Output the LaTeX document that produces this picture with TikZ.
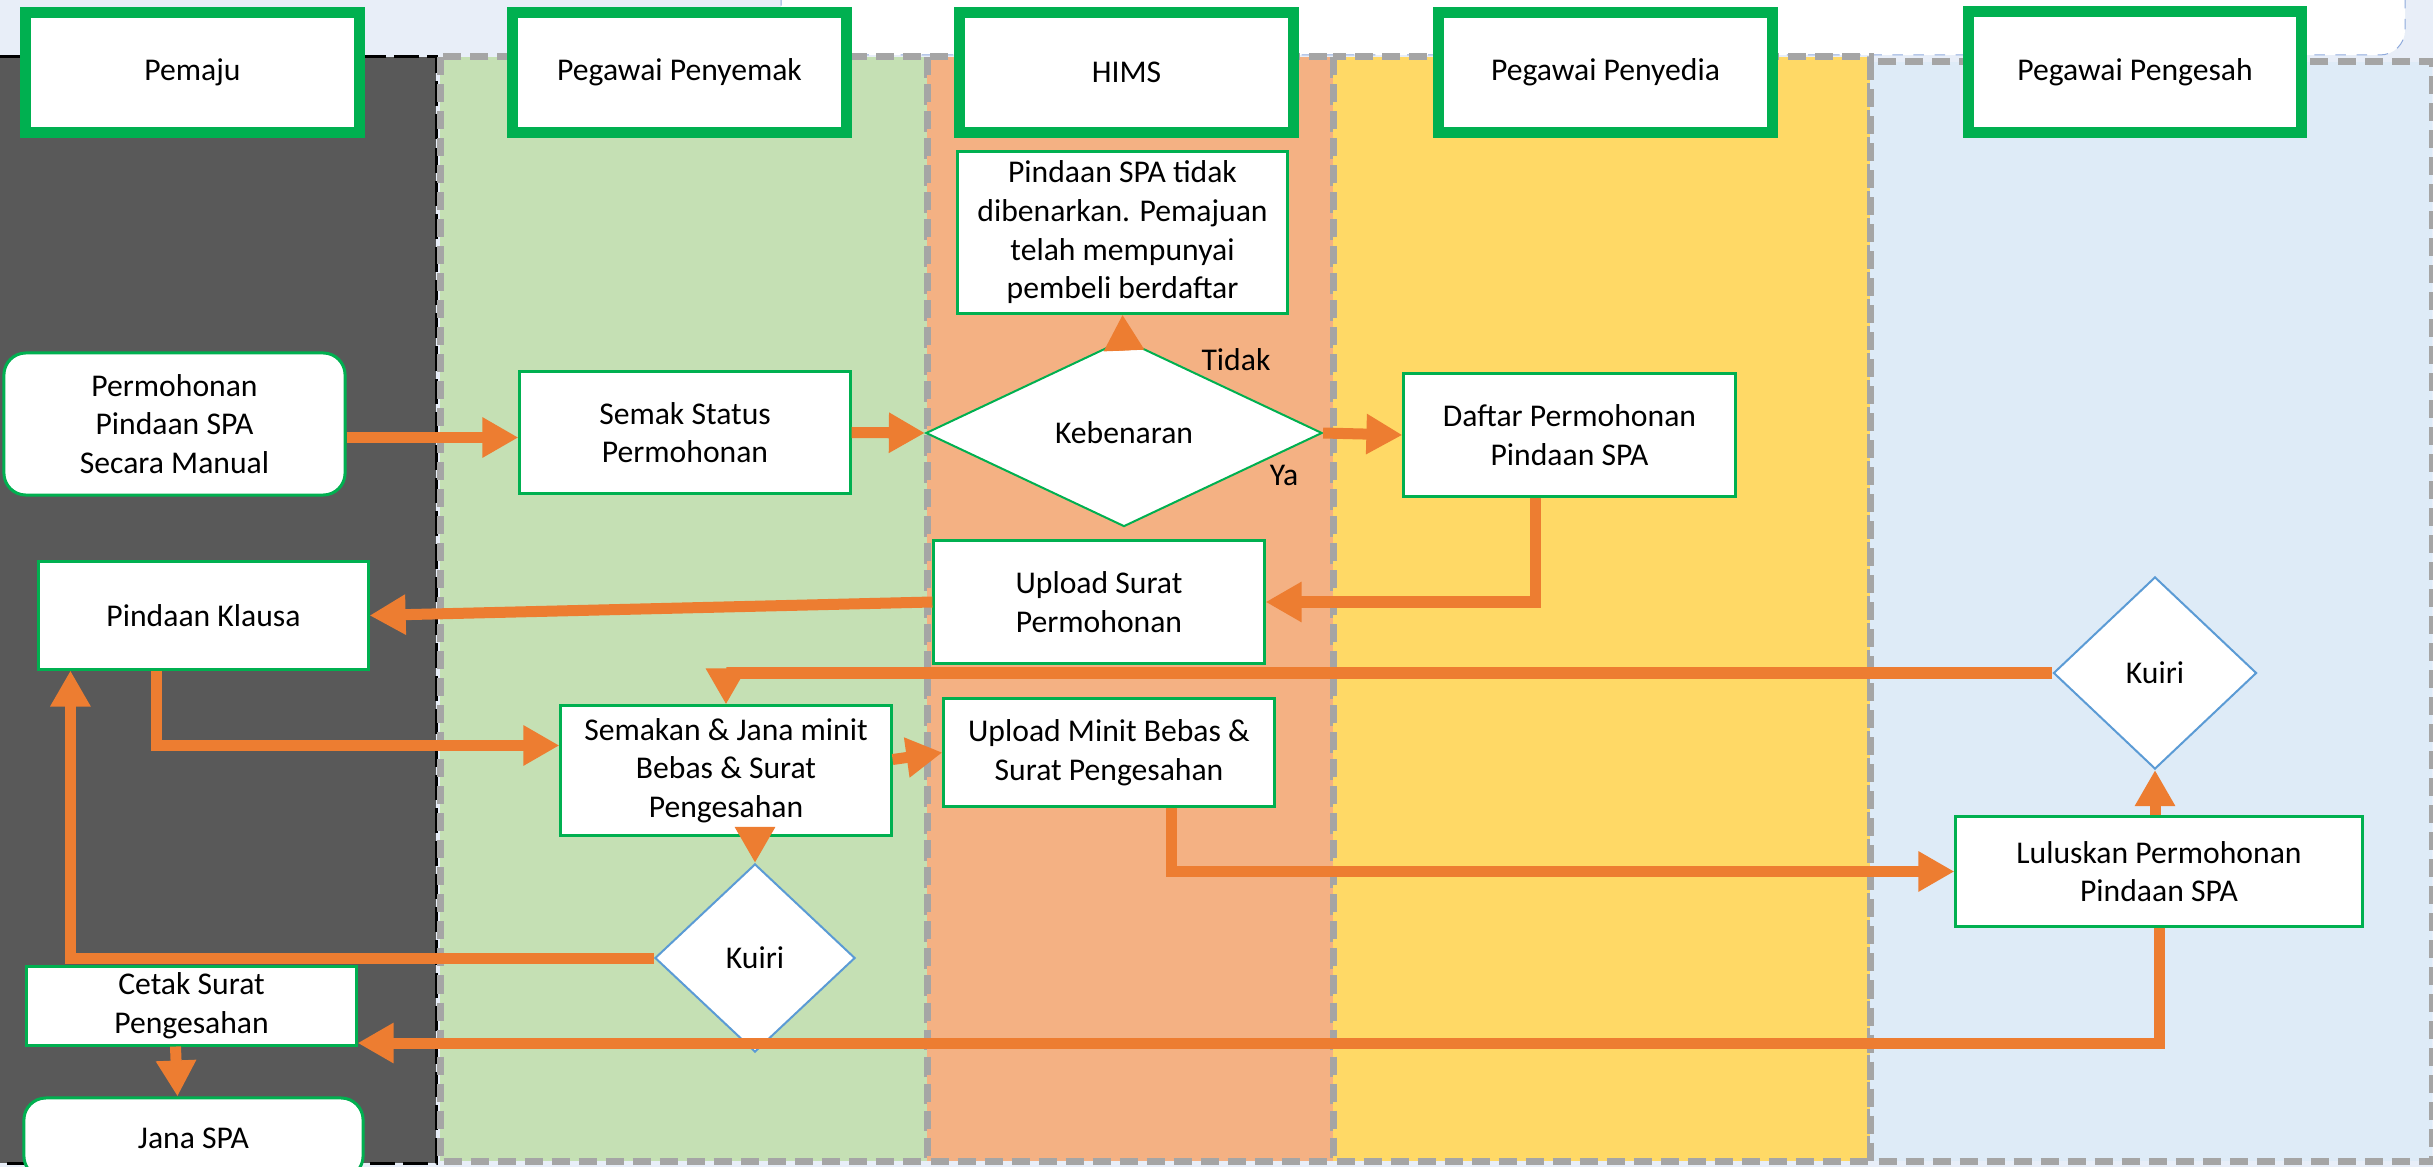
\documentclass[tikz,border=0pt]{standalone}
\usepackage{fontspec}
\setmainfont{Carlito}
\usetikzlibrary{shapes.geometric,arrows.meta}

\definecolor{bgblue}{HTML}{E8EEF8}
\definecolor{rimblue}{HTML}{8FAADC}
\definecolor{lanegray}{HTML}{A5A5A5}
\definecolor{pemajugray}{HTML}{595959}
\definecolor{penyemakgreen}{HTML}{C5E0B4}
\definecolor{himssalmon}{HTML}{F4B183}
\definecolor{penyediayellow}{HTML}{FFD966}
\definecolor{pengesahblue}{HTML}{DEEBF7}
\definecolor{hdrgreen}{HTML}{00B050}
\definecolor{kuiriblue}{HTML}{5B9BD5}
\definecolor{floworange}{HTML}{ED7D31}

\begin{document}
\begin{tikzpicture}[x=0.01cm, y=-0.01cm, font=\fontsize{9pt}{11pt}\selectfont,
  lanerim/.style={draw=lanegray, line width=0.07cm, dash pattern=on 0.18cm off 0.09cm},
  hdr/.style={draw=hdrgreen, line width=0.11cm, fill=white, inner sep=0pt,
    minimum width=3.33cm, minimum height=1.2cm},
  procbox/.style={draw=hdrgreen, line width=0.03cm, fill=white, align=center, inner sep=0pt},
  decbox/.style={shape=diamond, line width=0.02cm, fill=white, inner sep=0pt},
  flowarrow/.style={draw=floworange, line width=0.11cm,
    -{Triangle[length=0.36cm,width=0.38cm]}}]

  % Page and top strip
  \useasboundingbox (0,0) rectangle (2433,1167);
  \fill[bgblue] (0,0) rectangle (2433,1167);
  \draw[rimblue, dashed, line width=0.01cm, fill=white, rounded corners=0.25cm]
    (781,-30) rectangle (2405,55);

  % Lanes
  \filldraw[fill=pemajugray, draw=black, line width=0.03cm,
    dash pattern=on 0.25cm off 0.08cm] (-10,57) rectangle (436,1163);
  \filldraw[fill=penyemakgreen, lanerim] (440,57) rectangle (927,1161);
  \filldraw[fill=himssalmon, lanerim] (927,57) rectangle (1333,1161);
  \filldraw[fill=penyediayellow, lanerim] (1333,57) rectangle (1870,1161);
  \filldraw[fill=pengesahblue, lanerim] (1870,62) rectangle (2432,1161);

  % Lane headers
  \node[hdr] (hPemaju) at (192.5,72.5) {Pemaju};
  \node[hdr] (hPenyemak) at (679.5,72.5) {Pegawai Penyemak};
  \node[hdr] (hHims) at (1126.5,72.5) {HIMS};
  \node[hdr] (hPenyedia) at (1605.5,72.5) {Pegawai Penyedia};
  \node[hdr] (hPengesah) at (2135,72) {Pegawai Pengesah};

  % Steps
  \node[procbox, rounded corners=0.22cm, minimum width=3.41cm, minimum height=1.42cm]
    (mohon) at (174.5,424) {Permohonan\\Pindaan SPA\\Secara Manual};
  \node[procbox, minimum width=3.3cm, minimum height=1.21cm]
    (semak) at (685,432.5) {Semak Status\\Permohonan};
  \node[decbox, draw=hdrgreen, minimum width=3.96cm, minimum height=1.87cm]
    (benar) at (1124,433) {Kebenaran};
  \node[procbox, minimum width=3.29cm, minimum height=1.61cm]
    (tolak) at (1122.5,232.5) {Pindaan SPA tidak\\dibenarkan. Pemajuan\\telah mempunyai\\pembeli berdaftar};
  \node[procbox, minimum width=3.31cm, minimum height=1.22cm]
    (daftar) at (1569.5,435) {Daftar Permohonan\\Pindaan SPA};
  \node[procbox, minimum width=3.3cm, minimum height=1.22cm]
    (upsurat) at (1099,602) {Upload Surat\\Permohonan};
  \node[procbox, minimum width=3.29cm, minimum height=1.07cm]
    (klausa) at (203.5,615.5) {Pindaan Klausa};
  \node[procbox, minimum width=3.3cm, minimum height=1.29cm]
    (semakan) at (726,770.5) {Semakan \& Jana minit\\Bebas \& Surat\\Pengesahan};
  \node[procbox, minimum width=3.3cm, minimum height=1.07cm]
    (upminit) at (1109,752.5) {Upload Minit Bebas \&\\Surat Pengesahan};
  \node[decbox, draw=kuiriblue, minimum width=2.0cm, minimum height=1.88cm]
    (kuiriA) at (755,958) {Kuiri};
  \node[decbox, draw=kuiriblue, minimum width=2.03cm, minimum height=1.92cm]
    (kuiriB) at (2155,673) {Kuiri};
  \node[procbox, minimum width=4.06cm, minimum height=1.09cm]
    (lulus) at (2159,871.5) {Luluskan Permohonan\\Pindaan SPA};
  \node[procbox, minimum width=3.29cm, minimum height=0.78cm]
    (cetak) at (191.5,1006) {Cetak Surat\\Pengesahan};
  \node[procbox, rounded corners=0.22cm, minimum width=3.39cm, minimum height=0.8cm]
    (jana) at (193.5,1138) {Jana SPA};

  % Decision labels
  \node (tidak) at (1236,360) {Tidak};
  \node (ya) at (1284,475) {Ya};

  % Flow
  \draw[flowarrow] ([yshift=-0.05cm]mohon.east |- semak.west) -- ([yshift=-0.05cm]semak.west);
  \draw[flowarrow] (semak.east) -- (benar.west);
  \draw[flowarrow] ([yshift=-0.12cm]benar.north) -- (tolak.south);
  \draw[flowarrow] (benar.east) -- (daftar.west);
  \draw[flowarrow] ([xshift=-0.34cm]daftar.south) |- (upsurat.east);
  \draw[flowarrow] (upsurat.west) -- (klausa.east);
  \draw[flowarrow] ([xshift=-0.47cm]klausa.south) |- ([yshift=0.25cm]semakan.west);
  \draw[flowarrow] (semakan.south -| kuiriA.north) -- (kuiriA.north);
  \draw[flowarrow] ([yshift=0.11cm]semakan.east) -- (upminit.west);
  \draw[flowarrow] ([xshift=0.62cm]upminit.south) |- (lulus.west);
  \draw[flowarrow] (lulus.north -| kuiriB.south) -- (kuiriB.south);
  \draw[flowarrow] (kuiriB.west) -| (semakan.north);
  \draw[flowarrow] (kuiriA.west) -| ([xshift=-1.33cm]klausa.south);
  \draw[flowarrow] (lulus.south) |- ([yshift=-0.37cm]cetak.east);
  \draw[flowarrow] ([xshift=-0.16cm]cetak.south) -- ([xshift=-0.16cm]jana.north);
\end{tikzpicture}
\end{document}
